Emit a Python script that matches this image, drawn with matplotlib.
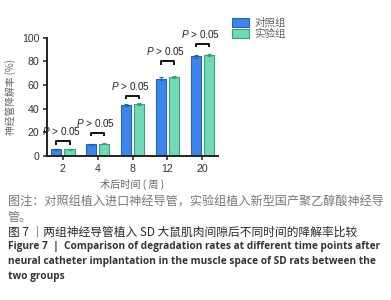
import numpy as np
import matplotlib
matplotlib.use("Agg")
import matplotlib.pyplot as plt

plt.rcParams['font.family'] = ['Liberation Sans', 'Noto Sans CJK SC', 'DejaVu Sans']
plt.rcParams['mathtext.fontset'] = 'custom'
plt.rcParams['mathtext.it'] = 'Liberation Sans:italic'
plt.rcParams['mathtext.rm'] = 'Liberation Sans'

weeks = ['2', '4', '8', '12', '20']
control = [5.5, 10.0, 43.0, 65.5, 84.5]
control_err = [0.4, 0.4, 0.8, 1.2, 1.2]
exper = [5.5, 10.5, 44.0, 66.5, 85.5]
exper_err = [0.4, 0.5, 0.6, 0.8, 1.0]
bracket_y = [12.5, 19.5, 51.0, 80.0, 95.0]
group_names = ['对照组', '实验组']
p_label = r'$\it{P}$ > 0.05'

blue = '#3d85e6'
blue_edge = '#2a5fb0'
green = '#72d8b8'
green_edge = '#3e9e82'
axis_col = '#333333'
cn_col = '#666666'

fig = plt.figure(figsize=(3.91, 3.0), dpi=100)
ax = fig.add_axes([0.120, 0.48, 0.438, 0.394])

x = np.arange(len(weeks))
w = 0.29
off = 0.19
ax.bar(x - off, control, w, color=blue, edgecolor=blue_edge, linewidth=0.8,
       yerr=control_err, error_kw=dict(ecolor=blue_edge, elinewidth=0.8, capsize=1.5, capthick=0.8),
       label=group_names[0])
ax.bar(x + off, exper, w, color=green, edgecolor=green_edge, linewidth=0.8,
       yerr=exper_err, error_kw=dict(ecolor=green_edge, elinewidth=0.8, capsize=1.5, capthick=0.8),
       label=group_names[1])

# significance brackets
for xi, by in zip(x, bracket_y):
    ax.plot([xi - off, xi - off, xi + off, xi + off], [by - 3, by, by, by - 3],
            color='#111111', lw=1.4, solid_capstyle='butt', clip_on=False)
    ax.text(xi - 0.05, by + 3.5, p_label, ha='center', va='bottom', fontsize=7.2,
            color='#222222', clip_on=False)

ax.set_xlim(-0.46, 4.46)
ax.set_ylim(0, 100)
ax.set_xticks(x)
ax.set_xticklabels(weeks)
ax.set_yticks([0, 20, 40, 60, 80, 100])
ax.tick_params(axis='both', labelsize=7.6, colors=axis_col, width=1.2, length=3, pad=2.5)
for s in ['top', 'right']:
    ax.spines[s].set_visible(False)
for s in ['left', 'bottom']:
    ax.spines[s].set_linewidth(1.4)
    ax.spines[s].set_color('#222222')

cn = ['Noto Sans CJK SC', 'DejaVu Sans']
ax.set_ylabel('神经管降解率 (%)', fontsize=7, color=cn_col, labelpad=4, family=cn)
ax.set_xlabel('术后时间 ( 周 )', fontsize=7.3, color=cn_col, labelpad=4, family=cn)

leg = fig.legend(loc='upper left', bbox_to_anchor=(0.583, 0.955), frameon=False,
                 handlelength=1.6, handleheight=0.9, handletextpad=0.5,
                 labelspacing=0.12, borderaxespad=0,
                 prop=dict(family=['Noto Sans CJK SC'], size=7.6))
for t in leg.get_texts():
    t.set_color(cn_col)

fig.text(0.02, 0.327, '图注：对照组植入进口神经导管，实验组植入新型国产聚乙醇酸神经导',
         fontsize=8.7, color='#777777', family=cn, va='center')
fig.text(0.02, 0.275, '管。', fontsize=8.7, color='#777777', family=cn, va='center')
fig.text(0.02, 0.227, '图 7 ｜两组神经导管植入 SD 大鼠肌肉间隙后不同时间的降解率比较',
         fontsize=8.45, color='#2a2a2a', family=cn, weight='medium', va='center')
en = dict(fontsize=7.3, color='#333333', family=['Open Sans'], weight='bold', va='center')
fig.text(0.02, 0.177, 'Figure 7  |  Comparison of degradation rates at different time points after', **en)
fig.text(0.02, 0.127, 'neural catheter implantation in the muscle space of SD rats between the', **en)
fig.text(0.02, 0.077, 'two groups', **en)

fig.savefig('out.png', dpi=100, facecolor='white')
